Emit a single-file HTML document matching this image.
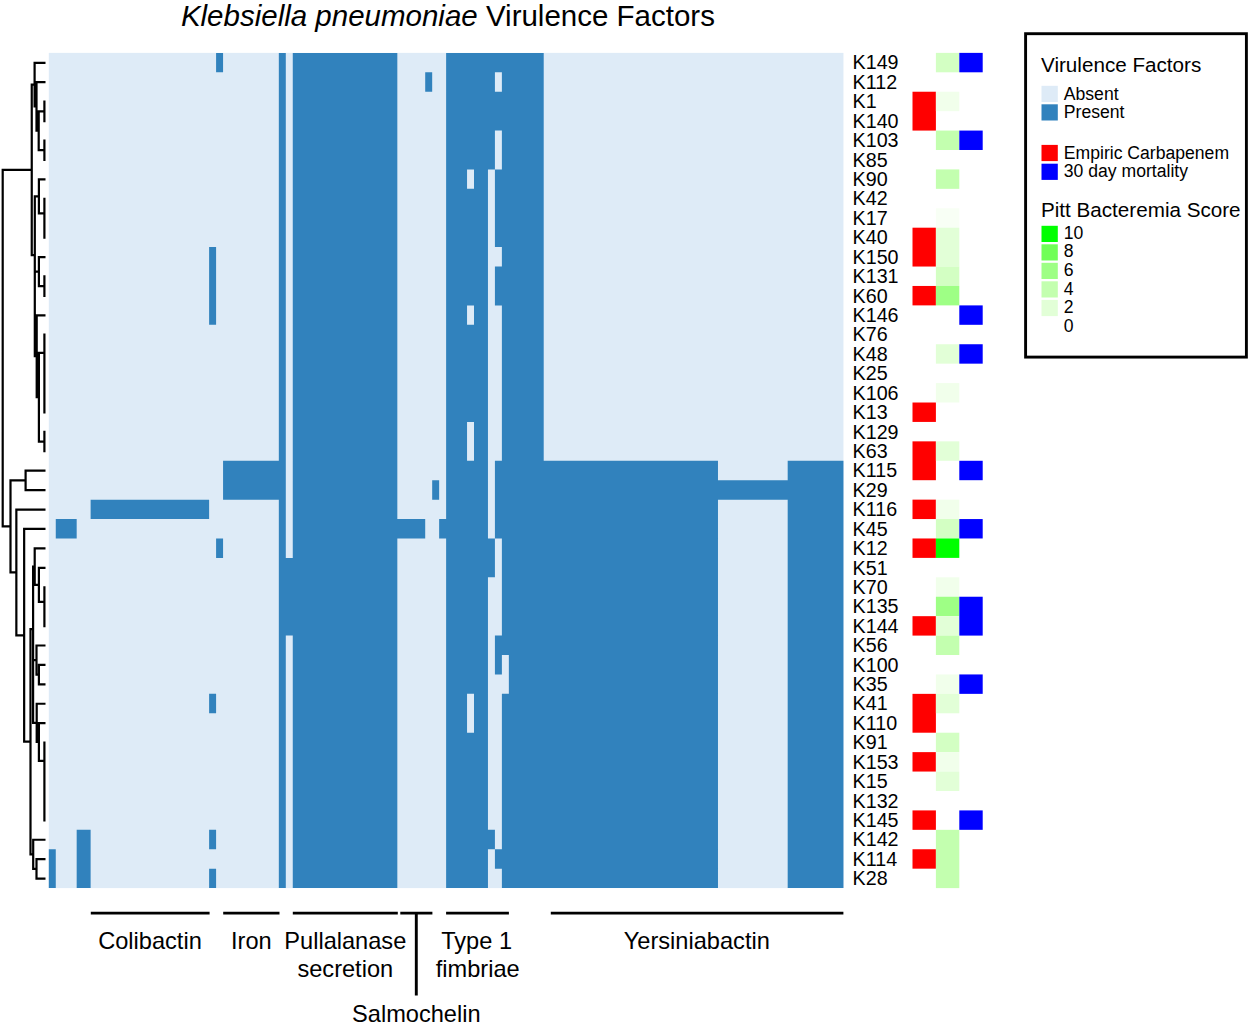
<!DOCTYPE html>
<html><head><meta charset="utf-8"><title>Klebsiella pneumoniae Virulence Factors</title>
<style>
html,body{margin:0;padding:0;background:#fff;}
body{width:1250px;height:1025px;overflow:hidden;}
svg{display:block;font-family:"Liberation Sans",sans-serif;}
</style></head><body>
<svg width="1250" height="1025" viewBox="0 0 1250 1025">
<rect width="1250" height="1025" fill="#fff"/>
<rect x="48.8" y="52.88" width="794.65" height="835.22" fill="#deebf7"/>
<path fill="#3182bd" d="M48.8 849.25H55.77V888.1H48.8zM55.77 519.05H76.68V538.47H55.77zM76.68 829.83H90.62V888.1H76.68zM90.62 499.63H209.12V519.05H90.62zM209.12 247.12H216.09V324.81H209.12zM209.12 693.86H216.09V713.29H209.12zM209.12 829.83H216.09V849.25H209.12zM209.12 868.68H216.09V888.1H209.12zM216.09 52.88H223.07V72.3H216.09zM216.09 538.47H223.07V557.9H216.09zM223.07 460.78H285.8V499.63H223.07zM278.83 52.88H285.8V460.78H278.83zM278.83 499.63H285.8V557.9H278.83zM278.83 635.59H285.8V888.1H278.83zM278.83 557.9H397.33V635.59H278.83zM292.77 52.88H397.33V519.05H292.77zM292.77 538.47H397.33V557.9H292.77zM292.77 635.59H397.33V888.1H292.77zM292.77 519.05H425.21V538.47H292.77zM425.21 72.3H432.18V91.73H425.21zM432.18 480.2H439.15V499.63H432.18zM439.15 519.05H487.95V538.47H439.15zM446.13 169.42H467.04V188.85H446.13zM446.13 305.39H467.04V324.81H446.13zM446.13 421.93H467.04V460.78H446.13zM446.13 693.86H467.04V732.71H446.13zM446.13 188.85H487.95V305.39H446.13zM446.13 324.81H487.95V421.93H446.13zM446.13 460.78H487.95V519.05H446.13zM446.13 577.32H487.95V693.86H446.13zM446.13 732.71H487.95V829.83H446.13zM446.13 849.25H487.95V888.1H446.13zM446.13 72.3H494.92V91.73H446.13zM446.13 130.57H494.92V169.42H446.13zM446.13 538.47H494.92V577.32H446.13zM446.13 829.83H494.92V849.25H446.13zM446.13 52.88H543.71V72.3H446.13zM446.13 91.73H543.71V130.57H446.13zM474.01 169.42H487.95V188.85H474.01zM474.01 305.39H487.95V324.81H474.01zM474.01 421.93H487.95V460.78H474.01zM474.01 693.86H487.95V732.71H474.01zM494.92 655.02H501.89V674.44H494.92zM494.92 169.42H543.71V247.12H494.92zM494.92 266.54H543.71V305.39H494.92zM494.92 460.78H717.98V480.2H494.92zM494.92 499.63H717.98V538.47H494.92zM494.92 635.59H717.98V655.02H494.92zM494.92 849.25H717.98V868.68H494.92zM494.92 480.2H843.45V499.63H494.92zM501.89 72.3H543.71V91.73H501.89zM501.89 130.57H543.71V169.42H501.89zM501.89 247.12H543.71V266.54H501.89zM501.89 305.39H543.71V460.78H501.89zM501.89 538.47H717.98V635.59H501.89zM501.89 693.86H717.98V849.25H501.89zM501.89 868.68H717.98V888.1H501.89zM508.86 655.02H717.98V693.86H508.86zM787.69 460.78H843.45V480.2H787.69zM787.69 499.63H843.45V888.1H787.69z"/>
<rect x="912.50" y="91.73" width="23.4" height="38.85" fill="#ff0000"/>
<rect x="912.50" y="227.69" width="23.4" height="38.85" fill="#ff0000"/>
<rect x="912.50" y="285.96" width="23.4" height="19.42" fill="#ff0000"/>
<rect x="912.50" y="402.51" width="23.4" height="19.42" fill="#ff0000"/>
<rect x="912.50" y="441.35" width="23.4" height="38.85" fill="#ff0000"/>
<rect x="912.50" y="499.63" width="23.4" height="19.42" fill="#ff0000"/>
<rect x="912.50" y="538.47" width="23.4" height="19.42" fill="#ff0000"/>
<rect x="912.50" y="616.17" width="23.4" height="19.42" fill="#ff0000"/>
<rect x="912.50" y="693.86" width="23.4" height="38.85" fill="#ff0000"/>
<rect x="912.50" y="752.13" width="23.4" height="19.42" fill="#ff0000"/>
<rect x="912.50" y="810.41" width="23.4" height="19.42" fill="#ff0000"/>
<rect x="912.50" y="849.25" width="23.4" height="19.42" fill="#ff0000"/>
<rect x="935.90" y="52.88" width="23.4" height="19.42" fill="rgb(211,255,195)"/>
<rect x="935.90" y="91.73" width="23.4" height="19.42" fill="rgb(241,255,235)"/>
<rect x="935.90" y="130.57" width="23.4" height="19.42" fill="rgb(195,255,175)"/>
<rect x="935.90" y="169.42" width="23.4" height="19.42" fill="rgb(195,255,175)"/>
<rect x="935.90" y="208.27" width="23.4" height="19.42" fill="rgb(248,255,245)"/>
<rect x="935.90" y="227.69" width="23.4" height="38.85" fill="rgb(226,255,215)"/>
<rect x="935.90" y="266.54" width="23.4" height="19.42" fill="rgb(211,255,195)"/>
<rect x="935.90" y="285.96" width="23.4" height="19.42" fill="rgb(158,255,133)"/>
<rect x="935.90" y="344.24" width="23.4" height="19.42" fill="rgb(226,255,215)"/>
<rect x="935.90" y="383.08" width="23.4" height="19.42" fill="rgb(241,255,235)"/>
<rect x="935.90" y="441.35" width="23.4" height="19.42" fill="rgb(226,255,215)"/>
<rect x="935.90" y="499.63" width="23.4" height="19.42" fill="rgb(241,255,235)"/>
<rect x="935.90" y="519.05" width="23.4" height="19.42" fill="rgb(211,255,195)"/>
<rect x="935.90" y="538.47" width="23.4" height="19.42" fill="rgb(0,255,0)"/>
<rect x="935.90" y="577.32" width="23.4" height="19.42" fill="rgb(241,255,235)"/>
<rect x="935.90" y="596.74" width="23.4" height="19.42" fill="rgb(158,255,133)"/>
<rect x="935.90" y="616.17" width="23.4" height="19.42" fill="rgb(226,255,215)"/>
<rect x="935.90" y="635.59" width="23.4" height="19.42" fill="rgb(195,255,175)"/>
<rect x="935.90" y="674.44" width="23.4" height="19.42" fill="rgb(241,255,235)"/>
<rect x="935.90" y="693.86" width="23.4" height="19.42" fill="rgb(226,255,215)"/>
<rect x="935.90" y="732.71" width="23.4" height="19.42" fill="rgb(211,255,195)"/>
<rect x="935.90" y="752.13" width="23.4" height="19.42" fill="rgb(241,255,235)"/>
<rect x="935.90" y="771.56" width="23.4" height="19.42" fill="rgb(226,255,215)"/>
<rect x="935.90" y="829.83" width="23.4" height="58.27" fill="rgb(195,255,175)"/>
<rect x="959.30" y="52.88" width="23.4" height="19.42" fill="#0000ff"/>
<rect x="959.30" y="130.57" width="23.4" height="19.42" fill="#0000ff"/>
<rect x="959.30" y="305.39" width="23.4" height="19.42" fill="#0000ff"/>
<rect x="959.30" y="344.24" width="23.4" height="19.42" fill="#0000ff"/>
<rect x="959.30" y="460.78" width="23.4" height="19.42" fill="#0000ff"/>
<rect x="959.30" y="519.05" width="23.4" height="19.42" fill="#0000ff"/>
<rect x="959.30" y="596.74" width="23.4" height="38.85" fill="#0000ff"/>
<rect x="959.30" y="674.44" width="23.4" height="19.42" fill="#0000ff"/>
<rect x="959.30" y="810.41" width="23.4" height="19.42" fill="#0000ff"/>
<g font-size="19.7" fill="#000">
<text x="852.6" y="69.49">K149</text>
<text x="852.6" y="88.92">K112</text>
<text x="852.6" y="108.34">K1</text>
<text x="852.6" y="127.76">K140</text>
<text x="852.6" y="147.19">K103</text>
<text x="852.6" y="166.61">K85</text>
<text x="852.6" y="186.03">K90</text>
<text x="852.6" y="205.46">K42</text>
<text x="852.6" y="224.88">K17</text>
<text x="852.6" y="244.31">K40</text>
<text x="852.6" y="263.73">K150</text>
<text x="852.6" y="283.15">K131</text>
<text x="852.6" y="302.58">K60</text>
<text x="852.6" y="322.00">K146</text>
<text x="852.6" y="341.42">K76</text>
<text x="852.6" y="360.85">K48</text>
<text x="852.6" y="380.27">K25</text>
<text x="852.6" y="399.70">K106</text>
<text x="852.6" y="419.12">K13</text>
<text x="852.6" y="438.54">K129</text>
<text x="852.6" y="457.97">K63</text>
<text x="852.6" y="477.39">K115</text>
<text x="852.6" y="496.81">K29</text>
<text x="852.6" y="516.24">K116</text>
<text x="852.6" y="535.66">K45</text>
<text x="852.6" y="555.08">K12</text>
<text x="852.6" y="574.51">K51</text>
<text x="852.6" y="593.93">K70</text>
<text x="852.6" y="613.36">K135</text>
<text x="852.6" y="632.78">K144</text>
<text x="852.6" y="652.20">K56</text>
<text x="852.6" y="671.63">K100</text>
<text x="852.6" y="691.05">K35</text>
<text x="852.6" y="710.47">K41</text>
<text x="852.6" y="729.90">K110</text>
<text x="852.6" y="749.32">K91</text>
<text x="852.6" y="768.75">K153</text>
<text x="852.6" y="788.17">K15</text>
<text x="852.6" y="807.59">K132</text>
<text x="852.6" y="827.02">K145</text>
<text x="852.6" y="846.44">K142</text>
<text x="852.6" y="865.86">K114</text>
<text x="852.6" y="885.29">K28</text>
</g>
<path fill="none" stroke="#000" stroke-width="2.2" stroke-linecap="square" d="M44.40 101.64V121.06M44.40 140.49V159.91M38.70 111.35H44.40M38.70 150.20H44.40M38.70 111.35V150.20M36.50 130.77H38.70M36.50 82.22H44.40M36.50 82.22V130.77M34.60 106.50H36.50M34.60 62.79H44.40M34.60 62.79V106.50M31.75 84.64H34.60M44.40 198.76V237.61M38.90 213.33H44.40M38.90 179.33H44.40M38.90 179.33V213.33M34.80 196.33H38.90M44.40 276.45V295.88M38.90 286.16H44.40M38.90 257.03H44.40M38.90 257.03V286.16M34.80 271.60H38.90M44.40 334.72V412.42M44.40 431.84V451.27M38.90 352.93H44.40M38.90 441.55H44.40M38.90 352.93V441.55M36.70 397.24H38.90M36.70 315.30H44.40M36.70 315.30V397.24M34.80 356.27H36.70M34.80 196.33V356.27M31.75 255.13H34.80M31.75 84.64V255.13M2.70 169.89H31.75M25.60 470.69H44.40M25.60 490.11H44.40M25.60 470.69V490.11M10.50 480.40H25.60M44.40 587.23V626.08M38.90 601.80H44.40M38.90 567.81H44.40M38.90 567.81V601.80M34.70 584.80H38.90M34.70 548.38H44.40M34.70 548.38V584.80M33.10 566.59H34.70M38.90 664.93H44.40M38.90 684.35H44.40M38.90 664.93V684.35M36.50 674.64H38.90M36.50 645.50H44.40M36.50 645.50V674.64M33.10 660.07H36.50M44.40 742.62V820.32M38.90 760.83H44.40M38.90 723.20H44.40M38.90 723.20V760.83M36.70 742.02H38.90M36.70 703.77H44.40M36.70 703.77V742.02M33.10 722.89H36.70M33.10 566.59V722.89M30.50 629.04H33.10M36.50 859.16H44.40M36.50 878.59H44.40M36.50 859.16V878.59M33.20 868.88H36.50M33.20 839.74H44.40M33.20 839.74V868.88M30.50 854.31H33.20M30.50 629.04V854.31M24.15 741.67H30.50M24.15 528.96H44.40M24.15 528.96V741.67M16.35 635.32H24.15M16.35 509.54H44.40M16.35 509.54V635.32M10.50 572.43H16.35M10.50 480.40V572.43M2.70 526.41H10.50M2.70 169.89V526.41"/>
<path fill="none" stroke="#000" stroke-width="2.9" d="M90.8 913.1H209.6M223.2 913.1H279.5M292.8 913.1H397.8M400.3 913.1H432.4M446.1 913.1H508.9M550.8 913.1H843.4M416.3 913.1V995.6"/>
<g font-size="23.6" text-anchor="middle" fill="#000">
<text x="150" y="949.0">Colibactin</text>
<text x="251.3" y="949.0">Iron</text>
<text x="345.3" y="949.0">Pullalanase</text>
<text x="345.3" y="976.7">secretion</text>
<text x="476.6" y="948.6">Type 1</text>
<text x="477.7" y="976.7">fimbriae</text>
<text x="696.8" y="949.0">Yersiniabactin</text>
<text x="416.3" y="1021.7">Salmochelin</text>
</g>
<text x="180.9" y="26" font-size="29.5" fill="#000"><tspan font-style="italic">Klebsiella pneumoniae</tspan> Virulence Factors</text>
<rect x="1025.6" y="33.7" width="220.8" height="323.4" fill="#fff" stroke="#000" stroke-width="2.9"/>
<g fill="#000">
<text x="1041" y="71.9" font-size="20.65">Virulence Factors</text>
<text x="1041" y="217.3" font-size="20.65">Pitt Bacteremia Score</text>
<g font-size="17.6">
<text x="1063.8" y="99.6">Absent</text>
<text x="1063.8" y="118.0">Present</text>
<text x="1063.8" y="158.7">Empiric Carbapenem</text>
<text x="1063.8" y="177.4">30 day mortality</text>
<text x="1063.8" y="238.8">10</text>
<text x="1063.8" y="257.4">8</text>
<text x="1063.8" y="276.0">6</text>
<text x="1063.8" y="294.8">4</text>
<text x="1063.8" y="313.4">2</text>
<text x="1063.8" y="332.1">0</text>
</g></g>
<rect x="1041.5" y="85.8" width="16.3" height="16.2" fill="#deebf7"/>
<rect x="1041.5" y="104.3" width="16.3" height="16.2" fill="#3182bd"/>
<rect x="1041.5" y="144.9" width="16.3" height="16.2" fill="#ff0000"/>
<rect x="1041.5" y="163.7" width="16.3" height="16.2" fill="#0000ff"/>
<rect x="1041.5" y="225.8" width="16.3" height="16.2" fill="rgb(0,255,0)"/>
<rect x="1041.5" y="244.3" width="16.3" height="16.2" fill="rgb(112,255,87)"/>
<rect x="1041.5" y="262.8" width="16.3" height="16.2" fill="rgb(158,255,133)"/>
<rect x="1041.5" y="281.3" width="16.3" height="16.2" fill="rgb(195,255,175)"/>
<rect x="1041.5" y="299.9" width="16.3" height="16.2" fill="rgb(226,255,215)"/>
</svg>
</body></html>
